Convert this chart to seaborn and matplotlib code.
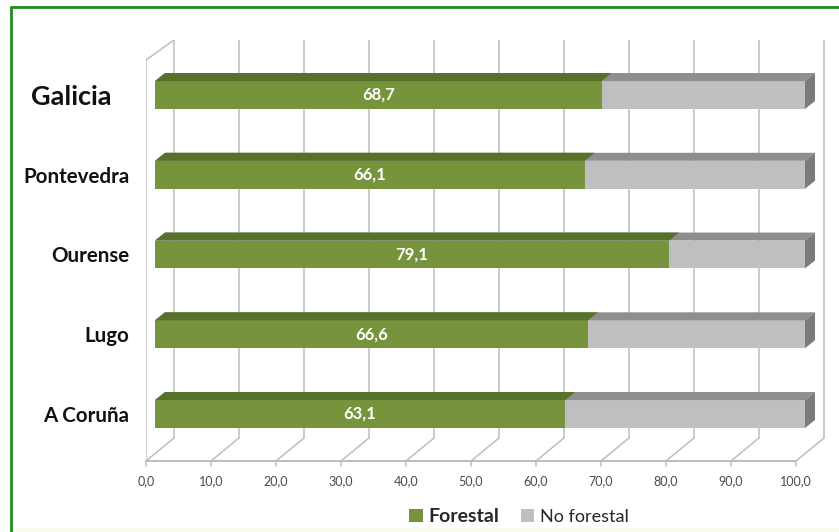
import matplotlib
matplotlib.use("Agg")
import matplotlib.pyplot as plt
import seaborn as sns
import pandas as pd
from matplotlib.patches import Polygon, Patch, Rectangle
from matplotlib.lines import Line2D
from matplotlib.transforms import ScaledTranslation

# ---------------- data ----------------
regions = ["Galicia", "Pontevedra", "Ourense", "Lugo", "A Coruña"]
forestal = [68.7, 66.1, 79.1, 66.6, 63.1]
no_forestal = [round(100 - v, 1) for v in forestal]
x_ticks = [0, 10, 20, 30, 40, 50, 60, 70, 80, 90, 100]
series_names = ["Forestal", "No forestal"]

df = pd.DataFrame({"region": regions, "Forestal": forestal, "No forestal": no_forestal})
df["total"] = df["Forestal"] + df["No forestal"]

# ---------------- style ----------------
sns.set_theme(style="white")
plt.rcParams["font.family"] = ["Lato", "DejaVu Sans"]

GREEN = "#77933C"
GREEN_TOP = "#56722A"
GREY = "#BFBFBF"
GREY_TOP = "#8E8E8E"
GREY_SIDE = "#7B7B7B"
WALL = "#BDBDBD"

W, H = 839, 532
fig = plt.figure(figsize=(W / 100, H / 100), dpi=100)
fig.patch.set_facecolor("white")

# axes geometry in pixels
ax_left, ax_right, ax_top, ax_bot = 146, 830, 40, 461
ax = fig.add_axes([ax_left / W, 1 - ax_bot / H, (ax_right - ax_left) / W, (ax_bot - ax_top) / H])
ax.set_facecolor("none")

bar_h = 0.35
sns.barplot(data=df, y="region", x="total", order=regions, color=GREY,
            width=bar_h, orient="h", ax=ax, saturation=1, zorder=3, linewidth=0, edgecolor="none")
sns.barplot(data=df, y="region", x="Forestal", order=regions, color=GREEN,
            width=bar_h, orient="h", ax=ax, saturation=1, zorder=4, linewidth=0, edgecolor="none")

# scales: bar front face 0 -> px 155, 100 -> px 805
px_per_unit = 6.5
x0_px = 155
ax.set_xlim((ax_left - x0_px) / px_per_unit, (ax_right - x0_px) / px_per_unit)
row_px = 79.75
top_center_px = 95
ax.set_ylim(4 + (ax_bot - (top_center_px + 4 * row_px)) / row_px,
            -(top_center_px - ax_top) / row_px)

# pseudo-3D geometry
dx = 10 / px_per_unit          # depth shift to the right (data units)
dy = 8 / row_px                # depth shift upwards (category units)
front_off = -9 / px_per_unit   # front floor offset relative to bar face
back_off = 19 / px_per_unit    # back wall offset relative to bar face
floor_back = 4 + (438 - (top_center_px + 4 * row_px)) / row_px
floor_front = ax.get_ylim()[0]
wall_top_back = ax.get_ylim()[1]
wall_top_front = -(top_center_px - 60) / row_px

# back-wall gridlines and floor diagonals
for v in x_ticks:
    ax.plot([v + back_off, v + back_off], [floor_back, wall_top_back], color=WALL, lw=1.1, zorder=1)
    ax.plot([v + back_off, v + front_off], [floor_back, floor_front], color=WALL, lw=1.1, zorder=1)
# floor front edge & left wall
ax.plot([x_ticks[0] + front_off, x_ticks[-1] + front_off], [floor_front, floor_front],
        color=WALL, lw=1.4, zorder=1, clip_on=False)
ax.plot([x_ticks[0] + front_off, x_ticks[0] + front_off], [floor_front, wall_top_front],
        color=WALL, lw=1.1, zorder=1)
ax.plot([x_ticks[0] + front_off, x_ticks[0] + back_off], [wall_top_front, wall_top_back],
        color=WALL, lw=1.1, zorder=1)
for v in x_ticks:
    ax.plot([v + front_off, v + front_off], [floor_front, floor_front + 0.06],
            color=WALL, lw=1.1, zorder=1, clip_on=False)

# 3D faces from the drawn bars
patches = list(ax.patches)
n = len(regions)
grey_bars, green_bars = patches[:n], patches[n:2 * n]
for bars, top_col, side in ((grey_bars, GREY_TOP, True), (green_bars, GREEN_TOP, False)):
    for p in bars:
        x0, y0, w, h = p.get_x(), p.get_y(), p.get_width(), p.get_height()
        ytop, ybot = min(y0, y0 + h), max(y0, y0 + h)
        x1 = x0 + w
        zo = p.get_zorder()
        ax.add_patch(Polygon([(x0, ytop), (x1, ytop), (x1 + dx, ytop - dy), (x0 + dx, ytop - dy)],
                             closed=True, facecolor=top_col, edgecolor="none", zorder=zo))
        if side:
            ax.add_patch(Polygon([(x1, ytop), (x1 + dx, ytop - dy), (x1 + dx, ybot - dy), (x1, ybot)],
                                 closed=True, facecolor=GREY_SIDE, edgecolor="none", zorder=zo))

# value labels
for p, val in zip(green_bars, forestal):
    ax.text(p.get_x() + p.get_width() / 2, p.get_y() + p.get_height() / 2,
            f"{val:.1f}".replace(".", ","), ha="center", va="center",
            color="white", fontsize=12, fontweight="bold", zorder=6)

# axes decorations
for s in ax.spines.values():
    s.set_visible(False)
ax.set_xlabel("")
ax.set_ylabel("")
ax.set_xticks([v + front_off for v in x_ticks])
ax.set_xticklabels([f"{v:.1f}".replace(".", ",") for v in x_ticks], fontsize=9, color="#4A4A4A")
ax.tick_params(axis="x", length=0, pad=10)
ax.tick_params(axis="y", length=0, pad=12)
for lbl in ax.get_yticklabels():
    lbl.set_fontweight("bold")
    lbl.set_color("#111111")
    if lbl.get_text() == "Galicia":
        lbl.set_fontsize(19.5)
        lbl.set_transform(lbl.get_transform() + ScaledTranslation(-0.18, 0, fig.dpi_scale_trans))
    else:
        lbl.set_fontsize(14.8)
ax.grid(False)

# legend
handles = [Patch(facecolor=GREEN, edgecolor="none"), Patch(facecolor=GREY, edgecolor="none")]
leg = fig.legend(handles, series_names, loc="center", bbox_to_anchor=(519 / W, 1 - 516 / H),
                 ncol=2, frameon=False, handlelength=0.75, handleheight=0.75,
                 handletextpad=0.3, columnspacing=1.2, fontsize=13)
leg.get_texts()[0].set_fontweight("bold")
leg.get_texts()[0].set_fontsize(14)

# frame border and bottom band
fig.add_artist(Rectangle((11 / W, 0), 1 - 11 / W, 4 / H, transform=fig.transFigure,
                         facecolor="#FBFBEF", edgecolor="none", zorder=0))
fig.add_artist(Line2D([11 / W, 1], [1 - 7 / H, 1 - 7 / H], transform=fig.transFigure,
                      color="#1E8C1E", lw=2))
fig.add_artist(Line2D([11 / W, 11 / W], [0, 1 - 7 / H], transform=fig.transFigure,
                      color="#1E8C1E", lw=2))

fig.savefig("out.png", dpi=100)
